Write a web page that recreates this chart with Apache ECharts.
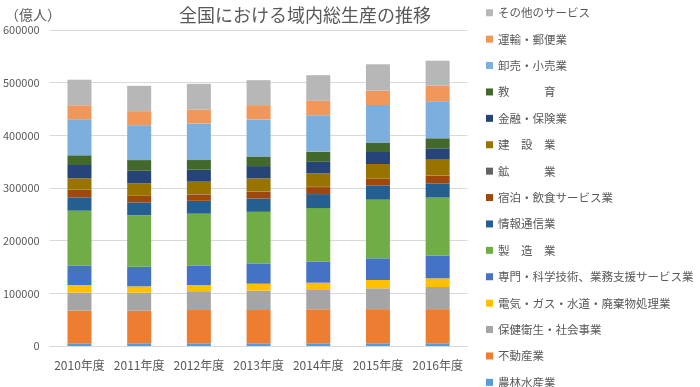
<!DOCTYPE html>
<html>
<head>
<meta charset="utf-8">
<script src="https://cdn.jsdelivr.net/npm/echarts@6/dist/echarts.min.js"></script>
<style>
html,body{margin:0;padding:0;background:#fff;}
#chart{width:700px;height:387px;}
</style>
</head>
<body>
<div id="chart"></div>
<script>
// Categories (fiscal years)
const years = ['2010年度','2011年度','2012年度','2013年度','2014年度','2015年度','2016年度'];

// Series values (stack order: bottom to top)
const agri        = [5100, 5100, 5100, 5100, 5100, 5100, 5100];            // 農林水産業
const realEstate  = [62300, 61900, 63200, 63200, 64600, 64800, 64800];     // 不動産業
const health      = [33800, 34200, 35700, 36700, 36600, 39600, 42100];     // 保健衛生・社会事業
const utilities   = [14600, 12100, 11800, 13300, 13900, 15800, 16500];     // 電気・ガス・水道・廃棄物処理業
const professional= [36700, 37200, 36700, 38600, 39800, 41200, 42900];     // 専門・科学技術、業務支援サービス業
const manufacturing=[104400, 97500, 98700, 97900, 101900, 111300, 110500]; // 製造業
const infoComm    = [25400, 24600, 24500, 25400, 26500, 27300, 26900];     // 情報通信業
const hospitality = [13900, 13400, 11900, 12600, 13300, 12000, 14500];     // 宿泊・飲食サービス業
const mining      = [600, 500, 500, 500, 500, 500, 500];                   // 鉱業
const construction= [21600, 22200, 23900, 24900, 25500, 28000, 30000];     // 建設業
const finance     = [25300, 24000, 22700, 23400, 22000, 22800, 21600];     // 金融・保険業
const education   = [18400, 20300, 18400, 18300, 19000, 18000, 19000];     // 教育
const trade       = [68300, 66300, 69500, 70400, 69600, 71200, 70200];     // 卸売・小売業
const transport   = [26600, 26600, 26500, 27000, 27200, 27100, 29600];     // 運輸・郵便業
const otherSvc    = [48600, 48100, 48700, 47400, 48700, 50200, 47500];     // その他のサービス

// Y axis ticks
const yMin = 0, yMax = 600000, yStep = 100000;

const seriesDefs = [
  ['農林水産業', agri, '#5B9BD5'],
  ['不動産業', realEstate, '#ED7D31'],
  ['保健衛生・社会事業', health, '#A5A5A5'],
  ['電気・ガス・水道・廃棄物処理業', utilities, '#FFC000'],
  ['専門・科学技術、業務支援サービス業', professional, '#4472C4'],
  ['製　造　業', manufacturing, '#70AD47'],
  ['情報通信業', infoComm, '#255E91'],
  ['宿泊・飲食サービス業', hospitality, '#9E480E'],
  ['鉱　　　業', mining, '#636363'],
  ['建　設　業', construction, '#997300'],
  ['金融・保険業', finance, '#264478'],
  ['教　　　育', education, '#43682B'],
  ['卸売・小売業', trade, '#7CAFDD'],
  ['運輸・郵便業', transport, '#F1975A'],
  ['その他のサービス', otherSvc, '#B7B7B7']
];

const FONT = '"Noto Sans CJK JP", "Noto Sans", sans-serif';
const chart = echarts.init(document.getElementById('chart'), null, {renderer: 'canvas'});

chart.setOption({
  animation: false,
  backgroundColor: '#ffffff',
  title: [
    {
      text: '全国における域内総生産の推移',
      left: 300, top: 1,
      textAlign: 'center',
      textStyle: {fontFamily: FONT, fontSize: 18, fontWeight: 'normal', color: '#595959'}
    },
    {
      text: '（億人）',
      left: 0, top: 3,
      textStyle: {fontFamily: FONT, fontSize: 14, fontWeight: 'normal', color: '#595959'}
    }
  ],
  legend: {
    orient: 'vertical',
    left: 486, top: 7,
    height: 420,
    padding: 0,
    itemWidth: 7, itemHeight: 7,
    itemGap: 14.9,
    icon: 'rect',
    data: seriesDefs.map(d => d[0]).slice().reverse(),
    textStyle: {fontFamily: FONT, fontSize: 11.5, color: '#595959'}
  },
  grid: {left: 47.5, right: 232.5, top: 30, bottom: 41, containLabel: false},
  xAxis: {
    type: 'category',
    data: years,
    axisLine: {show: true, lineStyle: {color: '#D9D9D9', width: 1}},
    axisTick: {show: false},
    axisLabel: {fontFamily: FONT, fontSize: 12, color: '#595959', margin: 13, interval: 0}
  },
  yAxis: {
    type: 'value',
    min: yMin, max: yMax, interval: yStep,
    axisLine: {show: false},
    axisTick: {show: false},
    splitLine: {lineStyle: {color: '#D9D9D9', width: 1}},
    axisLabel: {fontFamily: FONT, fontSize: 11, color: '#595959', margin: 10, formatter: v => String(v)}
  },
  series: seriesDefs.map(d => ({
    name: d[0],
    type: 'bar',
    stack: 'total',
    barWidth: 24,
    data: d[1],
    itemStyle: {color: d[2]}
  }))
});
</script>
</body>
</html>
